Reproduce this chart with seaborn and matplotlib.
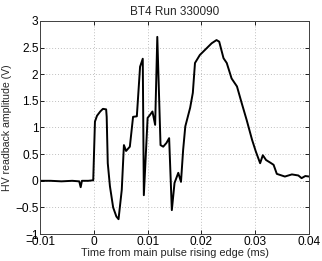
import numpy as np
import pandas as pd
import matplotlib
matplotlib.use("Agg")
import matplotlib.pyplot as plt
import seaborn as sns

# Puntos
tiempo_ms = [
    -0.0100, -0.0080, -0.0060, -0.0040, -0.0027, -0.00243, -0.0022, -0.0010, -0.0001,
    0.00022, 0.0006, 0.0012, 0.0017, 0.0023, 0.0024, 0.0026, 0.0030, 0.0036, 0.0042,
    0.0046, 0.0052, 0.0056, 0.0060, 0.0067, 0.0073, 0.0080, 0.0086, 0.0091, 0.0093,
    0.0100, 0.0104, 0.0109, 0.0114, 0.0118, 0.0124, 0.0129, 0.0135, 0.0140,
    0.0145, 0.0150, 0.0157, 0.0162, 0.0166, 0.0170, 0.0179, 0.0184, 0.0188,
    0.0197, 0.0210, 0.0219, 0.0228, 0.0233, 0.0241, 0.0247, 0.0256, 0.0266,
    0.0275, 0.0284, 0.0294, 0.0301, 0.0309, 0.0314, 0.0320, 0.0328, 0.0334,
    0.0340, 0.0346, 0.0355, 0.0368, 0.0380, 0.0386, 0.0393, 0.0400,
]
amplitud_v = [
    0.00, 0.00, -0.01, 0.00, -0.01, -0.12, 0.00, 0.00, 0.01,
    1.11, 1.22, 1.30, 1.35, 1.34, 1.20, 0.33, -0.10, -0.50, -0.67,
    -0.72, -0.17, 0.67, 0.56, 0.64, 1.20, 1.21, 2.14, 2.29, -0.27,
    1.18, 1.23, 1.30, 1.05, 2.70, 0.67, 0.64, 0.71, 0.80,
    -0.55, -0.04, 0.15, -0.02, 0.58, 1.02, 1.37, 1.65, 2.21,
    2.36, 2.49, 2.58, 2.64, 2.61, 2.30, 2.21, 1.92, 1.77,
    1.45, 1.14, 0.77, 0.55, 0.33, 0.48, 0.39, 0.34, 0.30,
    0.13, 0.11, 0.08, 0.12, 0.10, 0.05, 0.09, 0.08,
]

df = pd.DataFrame({"tiempo": tiempo_ms, "amplitud": amplitud_v})

sns.set_style("white")
plt.rcParams["font.family"] = ["Liberation Sans", "DejaVu Sans"]
plt.rcParams["axes.unicode_minus"] = True

fig = plt.figure(figsize=(3.22, 2.61), dpi=100)
ax = fig.add_axes([0.124, 0.103, 0.836, 0.817])

sns.lineplot(data=df, x="tiempo", y="amplitud", color="black", linewidth=1.4, ax=ax)

ax.set_xlim(-0.01, 0.04)
ax.set_ylim(-1, 3)
ax.set_xticks([-0.01, 0, 0.01, 0.02, 0.03, 0.04])
ax.set_xticklabels(["\u22120.01", "0", "0.01", "0.02", "0.03", "0.04"])
ax.set_yticks([-1, -0.5, 0, 0.5, 1, 1.5, 2, 2.5, 3])
ax.set_yticklabels(["\u22121", "\u22120.5", "0", "0.5", "1", "1.5", "2", "2.5", "3"])
ax.grid(True, linestyle=(0, (1, 2)), color="#c0c0c0", linewidth=0.7)
ax.tick_params(direction="in", length=3, width=0.6, labelsize=8.6, pad=1,
               top=True, right=True, bottom=True, left=True, colors="black")
for s in ax.spines.values():
    s.set_visible(True)
    s.set_color("#404040")
    s.set_linewidth(0.7)

ax.set_xlabel("Time from main pulse rising edge (ms)", fontsize=7.9, labelpad=0)
ax.set_ylabel("HV readback amplitude (V)", fontsize=7.6, labelpad=2)
ax.set_title("BT4 Run 330090", fontsize=8.5, pad=4)

plt.savefig("out.png", dpi=100)
plt.close()
